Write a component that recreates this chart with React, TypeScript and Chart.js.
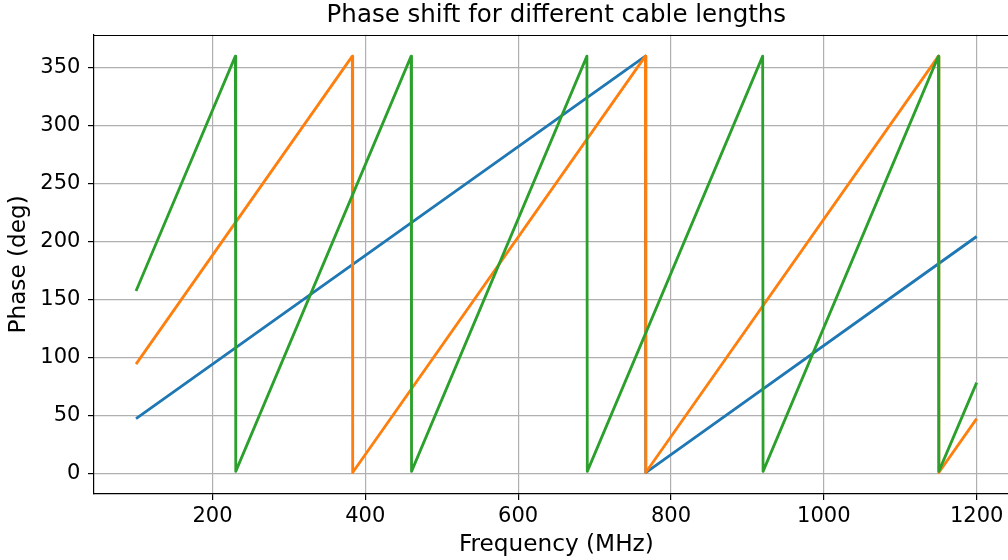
import React, { useEffect, useRef } from "react";
import { Chart, registerables } from "chart.js";

Chart.register(...registerables);

// Series data (frequency in MHz, phase in degrees)
const blueFreq = [100, 766.5, 767, 1200];
const bluePhase = [47, 359.5, 0.5, 204];

const orangeFreq = [100, 383, 383.5, 766.5, 767, 1150, 1150.5, 1200];
const orangePhase = [94, 359.5, 0.5, 359.5, 0.5, 359.5, 0.5, 47];

const greenFreq = [100, 230, 230.5, 460, 460.5, 690, 690.5, 920, 920.5, 1150, 1150.5, 1200];
const greenPhase = [157, 359.5, 1.5, 359.5, 1.5, 359.5, 1.5, 359.5, 1.5, 359.5, 1.5, 78];

const xTicks = [200, 400, 600, 800, 1000, 1200];
const yTicks = [0, 50, 100, 150, 200, 250, 300, 350];

const FONT = "'DejaVu Sans', sans-serif";

function toPoints(xs: number[], ys: number[]) {
  return xs.map((x, i) => ({ x, y: ys[i] }));
}

export default function App() {
  const ref = useRef<HTMLCanvasElement>(null);

  useEffect(() => {
    if (!ref.current) return;
    const frame = {
      id: "frame",
      afterLayout(chart: any) {
        const tb = chart.titleBlock;
        if (tb) {
          const ca = chart.chartArea;
          // center title over the axes box, like matplotlib
          tb.left = ca.left;
          tb.right = ca.right;
          tb.width = tb.right - tb.left;
        }
      },
      afterDraw(chart: any) {
        const { ctx, chartArea } = chart;
        ctx.save();
        ctx.strokeStyle = "#000";
        ctx.lineWidth = 1.2;
        const y = Math.round(chartArea.top) + 0.5;
        const x = Math.round(chartArea.right) - 0.5;
        ctx.beginPath();
        ctx.moveTo(chartArea.left, y);
        ctx.lineTo(x, y);
        ctx.lineTo(x, chartArea.bottom);
        ctx.stroke();
        ctx.restore();
      },
    };

    const lineDs = (label: string, xs: number[], ys: number[], color: string, order: number) => ({
      label,
      data: toPoints(xs, ys),
      borderColor: color,
      backgroundColor: color,
      borderWidth: 2.8,
      pointRadius: 0,
      tension: 0,
      fill: false,
      borderJoinStyle: "round" as const,
      order,
    });

    const chart = new Chart(ref.current, {
      type: "line",
      data: {
        datasets: [
          lineDs("Blue", blueFreq, bluePhase, "#1f77b4", 2),
          lineDs("Orange", orangeFreq, orangePhase, "#ff7f0e", 1),
          lineDs("Green", greenFreq, greenPhase, "#2ca02c", 0),
        ],
      },
      options: {
        responsive: false,
        animation: false,
        devicePixelRatio: 1,
        layout: { padding: { left: 0, top: 0, bottom: 0, right: 11.3 } },
        plugins: {
          legend: { display: false },
          tooltip: { enabled: false },
          title: {
            display: true,
            text: "Phase shift for different cable lengths",
            color: "#000",
            font: { family: FONT, size: 24.5, weight: "normal" },
            padding: { top: 1.3, bottom: 4 },
          },
        },
        scales: {
          x: {
            type: "linear",
            min: 45,
            max: 1255,
            afterBuildTicks: (s: any) => {
              s.ticks = xTicks.map((v) => ({ value: v }));
            },
            afterFit: (s: any) => {
              s.height = 66;
            },
            grid: {
              color: "#b0b0b0",
              lineWidth: 1.2,
              tickLength: 6,
              tickColor: "#000",
              tickWidth: 1.2,
            },
            border: { display: true, color: "#000", width: 1.2 },
            ticks: {
              color: "#000",
              font: { family: FONT, size: 21 },
              padding: 4.4,
              maxRotation: 0,
              autoSkip: false,
              callback: (v: any) => String(v),
            },
            title: {
              display: true,
              text: "Frequency (MHz)",
              color: "#000",
              font: { family: FONT, size: 23.2 },
              padding: { top: 0, bottom: 1.3 },
            },
          },
          y: {
            type: "linear",
            min: -18,
            max: 378,
            afterBuildTicks: (s: any) => {
              s.ticks = yTicks.map((v) => ({ value: v }));
            },
            afterFit: (s: any) => {
              s.width = 94;
            },
            grid: {
              color: "#b0b0b0",
              lineWidth: 1.2,
              tickLength: 6,
              tickColor: "#000",
              tickWidth: 1.2,
            },
            border: { display: true, color: "#000", width: 1.2 },
            ticks: {
              color: "#000",
              font: { family: FONT, size: 21 },
              padding: 7.6,
              autoSkip: false,
              callback: (v: any) => String(v),
            },
            title: {
              display: true,
              text: "Phase (deg)",
              color: "#000",
              font: { family: FONT, size: 23.2 },
              padding: { top: 5.2, bottom: 0 },
            },
          },
        },
      },
      plugins: [frame],
    });
    return () => chart.destroy();
  }, []);

  return (
    <div style={{ position: "absolute", left: 0, top: 0, width: 1008, height: 560, overflow: "hidden" }}>
      <canvas ref={ref} width={1030} height={560} style={{ display: "block" }} />
    </div>
  );
}
